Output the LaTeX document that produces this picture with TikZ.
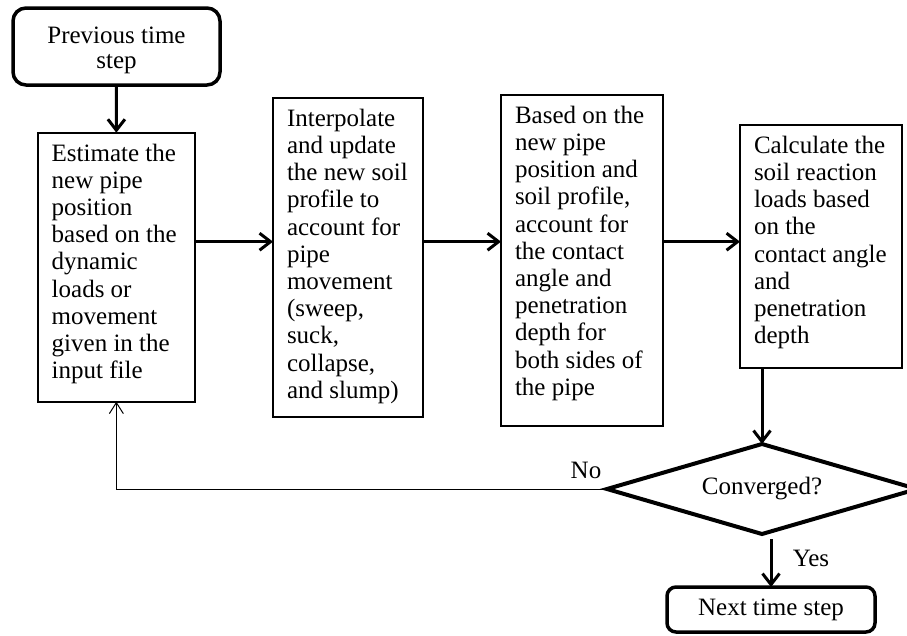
\documentclass[tikz,border=0pt]{standalone}
\usepackage{fontspec}
\setmainfont{Liberation Serif}
\usetikzlibrary{shapes.geometric,arrows.meta,calc}
\newcommand\bxt[3]{\parbox[t][#2][t]{#1}{\raggedright #3}}
\begin{document}
\begin{tikzpicture}[x=1pt,y=-1pt,
  every node/.style={font=\fontsize{25}{27.2}\selectfont, text=black},
  box/.style={draw, rectangle, line width=2pt, inner xsep=14pt, inner ysep=11pt, outer sep=0pt, anchor=north west},
  term/.style={draw, rectangle, line width=3.5pt, align=center, inner sep=0pt, outer sep=0pt},
  arr/.style={line width=3pt, -{Straight Barb[length=11pt,width=17pt]}},
  backarr/.style={line width=1pt, -{Straight Barb[length=11pt,width=14pt]}},
  lbl/.style={anchor=base, inner sep=0pt},
]
\useasboundingbox (0,0) rectangle (907,635);
\clip (0,0) rectangle (907,635);

\node[term, rounded corners=13pt, minimum width=207pt, minimum height=77pt,
      inner xsep=3.5pt, text height=35.3pt, text depth=41.7pt,
      font=\fontsize{25}{25}\selectfont] (start) at (116.5,46.5)
      {\parbox[t]{200pt}{\centering Previous time\\step}};

\node[box] (b1) at (37.7,132.7) {\bxt{129.3pt}{247pt}{Estimate the\\new pipe\\position\\based on the\\dynamic\\loads or\\movement\\given in the\\input file}};
\node[box] (b2) at (273,98) {\bxt{122pt}{296.7pt}{Interpolate\\and update\\the new soil\\profile to\\account for\\pipe\\movement\\(sweep,\\suck,\\collapse,\\and slump)}};
\node[box] (b3) at (501,95) {\bxt{134pt}{308.7pt}{Based on the\\new pipe\\position and\\soil profile,\\account for\\the contact\\angle and\\penetration\\depth for\\both sides of\\the pipe}};
\node[box] (b4) at (740,125) {\bxt{134pt}{220.7pt}{Calculate the\\soil reaction\\loads based\\on the\\contact angle\\and\\penetration\\depth}};

\node[diamond, draw, line width=4pt, aspect=3.44, minimum width=310pt, minimum height=90pt, inner sep=0pt, outer sep=0pt] (dia) at (762,489) {Converged?};

\node[term, rounded corners=9pt, minimum width=208pt, minimum height=45pt] (next) at (771,609.5) {Next time step};

\coordinate (row) at (0,241.7);

\draw[arr] (start.south) -- (b1.north);
\draw[arr] (b1.east |- row) -- (b2.west |- row);
\draw[arr] (b2.east |- row) -- (b3.west |- row);
\draw[arr] (b3.east |- row) -- (b4.west |- row);
\draw[arr] (b4.south -| dia.north) -- (dia.north);
\draw[arr] ([yshift=-5pt]dia.south -| next.north) -- (next.north);
\draw[backarr] (dia.west) -| (b1.south);

\node[lbl] (no) at (586,478) {No};
\node[lbl] (yes) at (811,566) {Yes};
\end{tikzpicture}
\end{document}
